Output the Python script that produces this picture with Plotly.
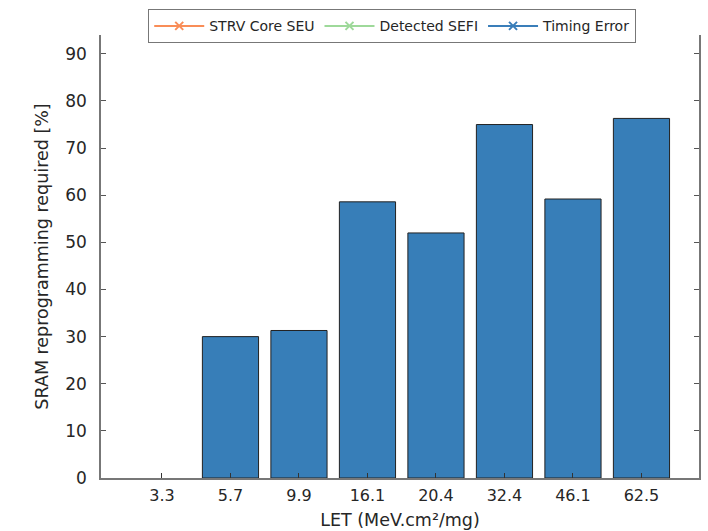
import plotly.graph_objects as go

categories = ["3.3", "5.7", "9.9", "16.1", "20.4", "32.4", "46.1", "62.5"]
sram_reprogramming = [0, 30.0, 31.3, 58.6, 52.0, 75.0, 59.2, 76.3]
legend_names = ["STRV Core SEU", "Detected SEFI", "Timing Error"]
legend_colors = ["#F98D57", "#9ED99A", "#3A7EB9"]

fig = go.Figure()
idx = list(range(len(categories)))
fig.add_trace(go.Bar(
    x=idx, y=sram_reprogramming, width=0.82,
    marker=dict(color="#377EB8",
                line=dict(color="#222222", width=[0 if v == 0 else 1 for v in sram_reprogramming])),
    showlegend=False,
))
for name, col in zip(legend_names, legend_colors):
    fig.add_trace(go.Scatter(
        x=[None], y=[None], mode="lines+markers", name=name,
        line=dict(color=col, width=2),
        marker=dict(symbol="x-thin", size=8, line=dict(color=col, width=2), color=col),
    ))

fig.update_layout(
    width=708, height=531,
    margin=dict(l=101, r=9, t=33, b=53),
    plot_bgcolor="white", paper_bgcolor="white",
    font=dict(family="DejaVu Sans", color="#262626"),
    legend=dict(orientation="h", x=0.487, xanchor="center", y=1.058, yanchor="top",
                bordercolor="#777777", borderwidth=1, font=dict(size=14, color="#262626"),
                bgcolor="white", tracegroupgap=0, itemwidth=50),
    xaxis=dict(
        range=[-0.89, 7.84], tickmode="array", tickvals=idx, ticktext=categories,
        ticks="inside", ticklen=5, tickcolor="#333333", showgrid=False, zeroline=False,
        showline=True, linecolor="#777777", linewidth=1.5, automargin=False,
        tickfont=dict(size=16, color="#262626"), ticklabelstandoff=2,
        title=dict(text="LET (MeV.cm²/mg)", font=dict(size=17.5, color="#262626"), standoff=10),
    ),
    yaxis=dict(
        range=[0, 94], tickvals=[0, 10, 20, 30, 40, 50, 60, 70, 80, 90],
        ticks="inside", ticklen=5, tickcolor="#555555", showgrid=False, zeroline=False,
        showline=True, linecolor="#777777", linewidth=1.5, mirror="ticks", automargin=False,
        tickfont=dict(size=17, color="#262626"), ticklabelstandoff=9,
        title=dict(text="SRAM reprogramming required [%]", font=dict(size=17.5, color="#262626"), standoff=12),
    ),
)
fig.write_html("out.html")
